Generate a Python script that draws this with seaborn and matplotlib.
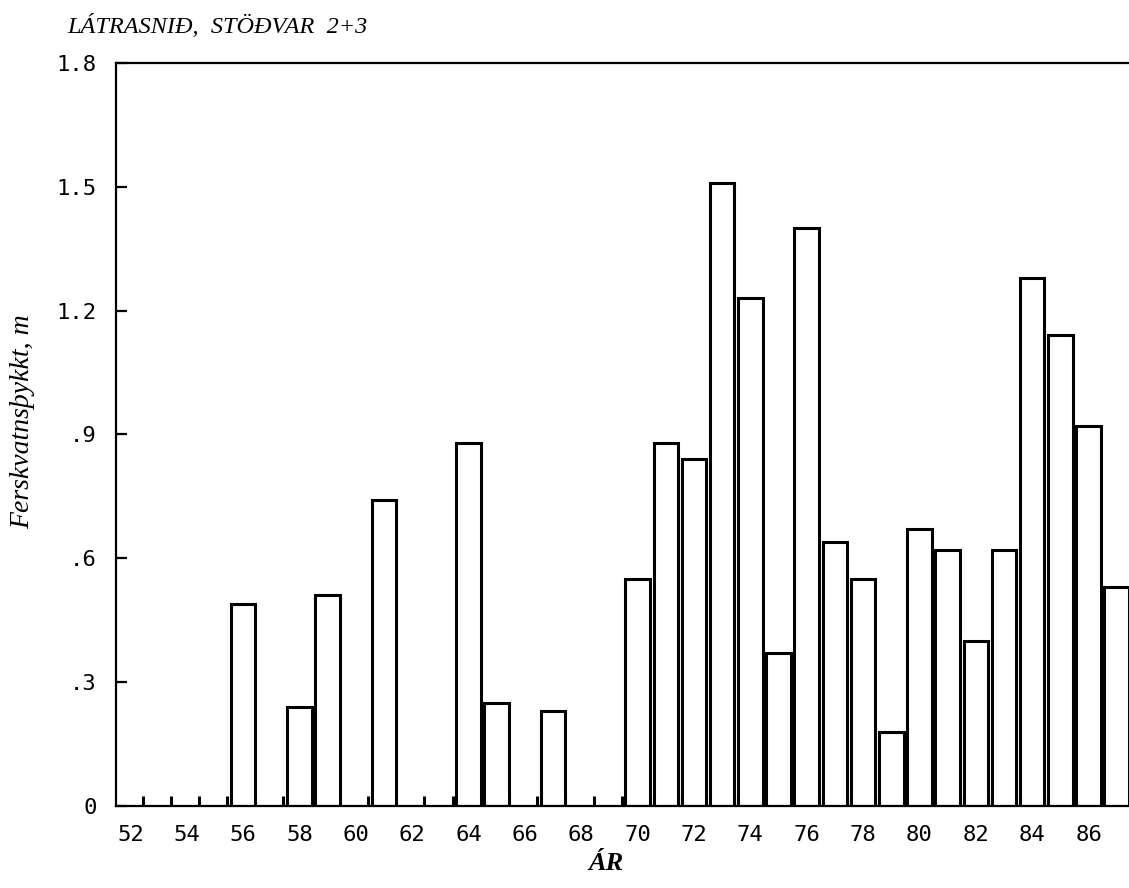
import numpy as np
import pandas as pd
import matplotlib
matplotlib.use("Agg")
import matplotlib.pyplot as plt
import seaborn as sns

# ár með mælingu og ferskvatnsþykkt (m)
years = [56, 58, 59, 61, 64, 65, 67, 70, 71, 72, 73, 74, 75, 76, 77, 78,
         79, 80, 81, 82, 83, 84, 85, 86, 87]
fresh_m = [0.49, 0.24, 0.51, 0.74, 0.88, 0.25, 0.23, 0.55, 0.88, 0.84,
           1.51, 1.23, 0.37, 1.40, 0.64, 0.55, 0.18, 0.67, 0.62, 0.40,
           0.62, 1.28, 1.14, 0.92, 0.53]
all_years = list(range(52, 88))
xtick_years = list(range(52, 87, 2))
ytick_vals = [0, 0.3, 0.6, 0.9, 1.2, 1.5, 1.8]
ytick_labels = ["0", ".3", ".6", ".9", "1.2", "1.5", "1.8"]

bar_w = 0.87

sns.set_style("ticks")
plt.rcParams["font.family"] = ["DejaVu Sans Mono", "DejaVu Sans"]
plt.rcParams["text.color"] = "black"
plt.rcParams["axes.labelcolor"] = "black"
plt.rcParams["xtick.color"] = "black"
plt.rcParams["ytick.color"] = "black"

df = pd.DataFrame({"ar": years, "m": fresh_m})

fig = plt.figure(figsize=(11.29, 8.88), dpi=100)
ax = fig.add_axes([0.1027, 0.0924, 0.8973, 0.8367])

sns.barplot(data=df, x="ar", y="m", native_scale=True, width=bar_w,
            color="white", saturation=1, edgecolor="black", linewidth=2.2,
            errorbar=None, ax=ax)

ax.set_xlim(51.49, 87.32)
ax.set_ylim(0, 1.8)

# merki neðst: hægri brún hvers árs + vinstri brún súlna
minor = sorted(set([y + bar_w / 2 for y in all_years] +
                   [y - bar_w / 2 for y in years]))
ax.set_xticks(xtick_years)
ax.set_xticklabels([str(y) for y in xtick_years])
ax.set_xticks(minor, minor=True)
ax.tick_params(axis="x", which="major", length=0, pad=14, labelsize=16)
ax.tick_params(axis="x", which="minor", direction="in", length=7,
               width=2.2, color="black")

ax.set_yticks(ytick_vals)
ax.set_yticklabels(ytick_labels)
ax.tick_params(axis="y", direction="in", length=8, width=1.6,
               pad=14, labelsize=16)

for s in ["left", "bottom", "top"]:
    ax.spines[s].set_linewidth(1.6)
    ax.spines[s].set_color("black")
ax.spines["right"].set_visible(False)

ax.set_xlabel("")
ax.set_ylabel("Ferskvatnsþykkt, m", family="Liberation Serif",
              style="italic", fontsize=20)
ax.yaxis.set_label_coords(-0.080, 0.517)

fig.text(0.060, 0.963, "LÁTRASNIÐ,  STÖÐVAR  2+3", family="Liberation Serif",
         style="italic", fontsize=17.5, va="baseline", ha="left")
fig.text(0.537, 0.020, "ÁR", family="Liberation Serif", style="italic",
         weight="bold", fontsize=19, va="baseline", ha="center")

fig.savefig("out.png", dpi=100)
